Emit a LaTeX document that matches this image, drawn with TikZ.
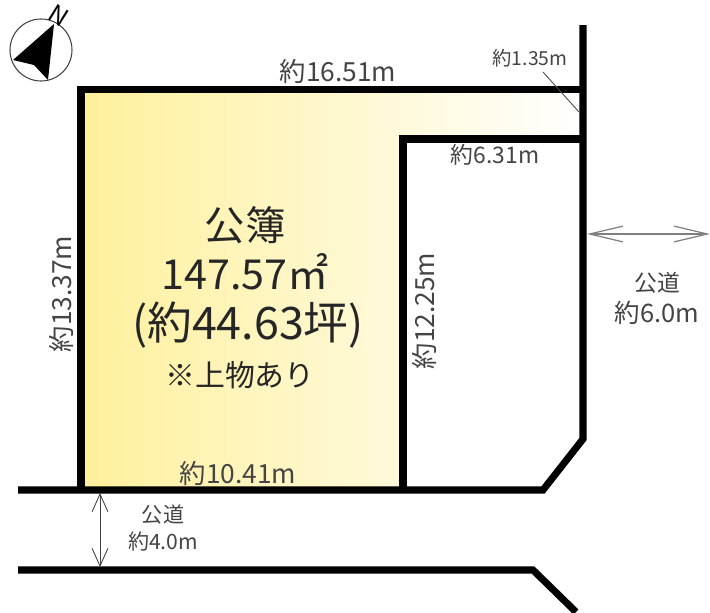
\documentclass[tikz,border=0pt]{standalone}
\usepackage{fontspec}
\setmainfont{Noto Sans CJK JP}
\usetikzlibrary{arrows.meta}
\definecolor{lotyellow}{HTML}{FFF09C}
\definecolor{labelgray}{HTML}{444444}
\tikzset{
  wall/.style={line width=4pt,line join=miter,black},
  biglabel/.style={text=black!85,font=\fontsize{23}{23}\selectfont,inner sep=0pt},
  lengthlabel/.style={text=labelgray,font=\fontsize{15}{15}\selectfont,inner sep=0pt},
  smalllabel/.style={text=labelgray,font=\fontsize{11}{11}\selectfont,inner sep=0pt},
  roadlabel/.style={text=labelgray,font=\fontsize{12}{12}\selectfont,inner sep=0pt}
}
\begin{document}
\begin{tikzpicture}[x=0.02cm,y=-0.02cm]
                \useasboundingbox (0,0) rectangle (710,612);
                % yellow lot
                \shade [left color=lotyellow,right color=white,shading angle=90] (81,90)--(583,90)--(583,139)--(403,139)--(403,490)--(81,490)--cycle;
                % walls
                \draw [wall] (81,490)--(81,89.5)--(583,89.5);
                \draw [wall] (583,25)--(583,439)--(543,490)--(18,490);
                \draw [wall] (403,490)--(403,139)--(583,139);
                \draw [wall] (18,570)--(533,570)--(576,612);
                % north mark
                \draw [line width=0.6pt,black!75] (41,50) circle (31);
                \fill (54,24)--(13,60)--(34,65)--(48,80)--cycle;
                \node (north) [rotate=-32,inner sep=0pt,font=\fontsize{14}{14}\selectfont] at (59,16) {N};
                % road widths
                \coordinate (eastroadl) at (587,234);
                \coordinate (eastroadr) at (710,234);
                \draw [{Straight Barb[length=19pt,width=9pt]}-{Straight Barb[length=19pt,width=9pt]},gray,line width=0.7pt] (eastroadl)--(eastroadr);
                \coordinate (southroadt) at (100,493);
                \coordinate (southroadb) at (100,567);
                \draw [{Straight Barb[length=10pt,width=9pt]}-{Straight Barb[length=10pt,width=9pt]},black!75,line width=0.5pt] (southroadt)--(southroadb);
                % leader of the 1.35m label
                \coordinate (leadera) at (543,72);
                \coordinate (leaderb) at (579,112);
                \draw [black!70,line width=0.5pt] (leadera)--(leaderb);
                % lengths
                \node (top) [lengthlabel] at (338,71) {約16.51m};
                \node (corner) [smalllabel] at (530,58) {約1.35m};
                \node (inner) [smalllabel,font=\fontsize{13}{13}\selectfont] at (495,155) {約6.31m};
                \node (left) [lengthlabel,rotate=90] at (61,294) {約13.37m};
                \node (middle) [lengthlabel,rotate=90] at (424,311) {約12.25m};
                \node (bottom) [lengthlabel] at (238,473) {約10.41m};
                % area
                \node (areaa) [biglabel] at (245,225) {公簿};
                \node (areab) [biglabel,font=\fontsize{23.5}{24}\selectfont] at (245,272) {147.57㎡};
                \node (areac) [biglabel,font=\fontsize{25.5}{26}\selectfont] at (248,325) {(約44.63坪)};
                \node (aread) [biglabel,font=\fontsize{17}{17}\selectfont] at (240,375) {※上物あり};
                % roads
                \node (eastname) [roadlabel,font=\fontsize{13}{13}\selectfont] at (657,283) {公道};
                \node (eastwidth) [roadlabel,font=\fontsize{14.5}{15}\selectfont] at (657,313) {約6.0m};
                \node (southname) [roadlabel] at (163,515) {公道};
                \node (southwidth) [roadlabel] at (163,541) {約4.0m};
\end{tikzpicture}
\end{document}
